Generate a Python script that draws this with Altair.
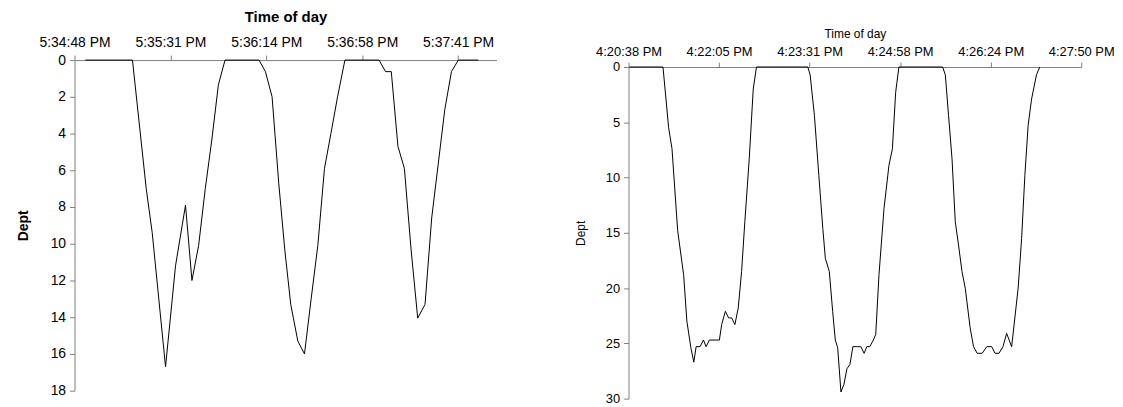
import altair as alt
import pandas as pd

# ---------------- Left dive (seconds after 5:34:48 PM) ----------------
left_sec = [4.9, 26.1, 32.3, 35.0, 41.0, 45.5, 50.0, 52.9, 55.9, 58.9, 61.9, 64.8, 67.8,
            83.1, 86.0, 89.0, 92.0, 94.7, 97.4, 100.6, 103.6, 106.6, 109.6, 112.6, 115.5,
            118.5, 121.8, 137.2, 140.1, 142.7, 145.7, 148.6, 151.6, 154.6, 157.9, 160.9,
            163.8, 166.8, 169.8, 172.9, 181.9]
left_depth = [0, 0, 7.0, 9.4, 16.7, 11.2, 7.9, 12.0, 10.1, 7.0, 4.3, 1.35, 0,
              0, 0.63, 2.0, 6.7, 10.3, 13.3, 15.3, 16.0, 13.0, 10.1, 5.9, 4.0,
              2.0, 0, 0, 0.63, 0.63, 4.7, 5.9, 10.3, 14.05, 13.3, 8.6,
              5.7, 2.7, 0.63, 0, 0]
left_tick_secs = [0, 43.2, 86.4, 129.6, 172.8]
left_tick_labels = ["5:34:48 PM", "5:35:31 PM", "5:36:14 PM", "5:36:58 PM", "5:37:41 PM"]
left_depth_ticks = [0, 2, 4, 6, 8, 10, 12, 14, 16, 18]

# ---------------- Right dive (seconds after 4:20:38 PM) ----------------
right_sec = [0.7, 32.9, 38.3, 41.5, 46.9, 52.6, 55.7, 59.5, 62.3, 64.5, 68.3, 71.5, 74.0,
             77.2, 86.7, 88.9, 92.4, 95.5, 98.4, 101.5, 104.7, 107.9, 111.0, 115.2, 119.0,
             122.1, 171.1, 173.3, 177.4, 181.6, 185.4, 187.8, 191.6, 194.8, 197.3, 199.6,
             202.7, 205.6, 208.4, 211.3, 214.1, 218.6, 221.7, 224.8, 227.4, 230.2, 233.1,
             235.9, 239.0, 243.8, 248.5, 251.8, 254.9, 258.0, 299.7, 302.3, 305.4, 308.7,
             311.8, 314.9, 318.2, 321.3, 326.0, 329.2, 332.7, 337.4, 341.9, 346.6, 349.7,
             353.5, 357.3, 360.8, 365.6, 371.8, 375.1, 378.2, 381.3, 384.6, 389.3, 392.4]
right_depth = [0, 0, 5.5, 7.4, 14.8, 18.8, 23.0, 25.4, 26.7, 25.3, 25.3, 24.7, 25.3,
               24.7, 24.7, 23.3, 22.1, 22.7, 22.7, 23.3, 21.8, 18.5, 14.0, 8.3, 2.0,
               0, 0, 0.7, 4.4, 9.8, 14.6, 17.3, 18.5, 22.1, 24.7, 25.4,
               29.4, 28.7, 27.3, 26.9, 25.3, 25.3, 25.3, 25.9, 25.3, 25.3, 24.8,
               24.2, 18.8, 12.8, 8.9, 7.4, 2.3, 0, 0, 0.7, 4.4, 8.3,
               14.0, 16.1, 18.5, 20.0, 23.6, 25.3, 25.9, 25.9, 25.3, 25.3, 25.9,
               25.9, 25.3, 24.1, 25.3, 20.0, 15.5, 9.8, 5.3, 2.9, 0.7, 0]
right_tick_secs = [0, 86.4, 172.8, 259.2, 345.6, 432.0]
right_tick_labels = ["4:20:38 PM", "4:22:05 PM", "4:23:31 PM", "4:24:58 PM", "4:26:24 PM", "4:27:50 PM"]
right_depth_ticks = [0, 5, 10, 15, 20, 25, 30]

FONT = "Liberation Sans"
AXIS_GREY = "#808080"


def label_expr(labels, step):
    arr = "[" + ",".join("'" + s + "'" for s in labels) + "]"
    return f"{arr}[round(datum.value / {step})]"


df_left = pd.DataFrame({"sec": left_sec, "depth": left_depth})
df_right = pd.DataFrame({"sec": right_sec, "depth": right_depth})

left = alt.Chart(df_left).mark_line(color="black", strokeWidth=1).encode(
    x=alt.X("sec:Q",
            scale=alt.Scale(domain=[0, 190.08], nice=False, zero=False),
            axis=alt.Axis(orient="top", title="Time of day", values=left_tick_secs,
                          labelExpr=label_expr(left_tick_labels, 43.2),
                          labelFlush=False, labelOverlap=False,
                          grid=False, domainColor=AXIS_GREY, tickColor=AXIS_GREY,
                          tickSize=5, labelFontSize=14, labelFont=FONT, labelColor="black",
                          titleFont=FONT, titleFontSize=15, titleFontWeight="bold",
                          titleColor="black", labelPadding=6, titlePadding=11)),
    y=alt.Y("depth:Q",
            scale=alt.Scale(domain=[0, 18], reverse=True, nice=False),
            axis=alt.Axis(title="Dept", values=left_depth_ticks, grid=False,
                          labelFlush=False,
                          domainColor=AXIS_GREY, tickColor=AXIS_GREY, tickSize=5,
                          labelFontSize=14, labelFont=FONT, labelColor="black",
                          titleFont=FONT, titleFontSize=14, titleFontWeight="bold",
                          titleColor="black", labelPadding=4, titlePadding=20)),
).properties(width=425, height=333)

# right panel: plot area starts 7 px lower than the left one
right = alt.Chart(df_right).mark_line(color="black", strokeWidth=1).encode(
    x=alt.X("sec:Q",
            scale=alt.Scale(domain=[0, 432], nice=False, zero=False),
            axis=alt.Axis(orient="top", title="Time of day", values=right_tick_secs,
                          labelExpr=label_expr(right_tick_labels, 86.4),
                          labelFlush=False, labelOverlap=False, offset=-7,
                          grid=False, domainColor=AXIS_GREY, tickColor=AXIS_GREY,
                          tickSize=5, labelFontSize=13, labelFont=FONT, labelColor="black",
                          titleFont=FONT, titleFontSize=12, titleFontWeight="normal",
                          titleColor="black", labelPadding=4, titlePadding=5)),
    y=alt.Y("depth:Q",
            scale=alt.Scale(domain=[0, 30], nice=False, range=[7, 341]),
            axis=alt.Axis(title="Dept", values=right_depth_ticks, grid=False,
                          labelFlush=False,
                          domainColor=AXIS_GREY, tickColor=AXIS_GREY, tickSize=5,
                          labelFontSize=13, labelFont=FONT, labelColor="black",
                          titleFont=FONT, titleFontSize=12, titleFontWeight="normal",
                          titleColor="black", labelPadding=4, titlePadding=18)),
).properties(width=456, height=341)

chart = alt.hconcat(left, right, spacing=78).properties(
    padding={"left": 8, "top": 0, "right": 0, "bottom": 0}
).configure_view(stroke=None).configure_axis(domainWidth=1, tickWidth=1)

chart.save("out.html", embed_options={"renderer": "svg", "actions": False})
